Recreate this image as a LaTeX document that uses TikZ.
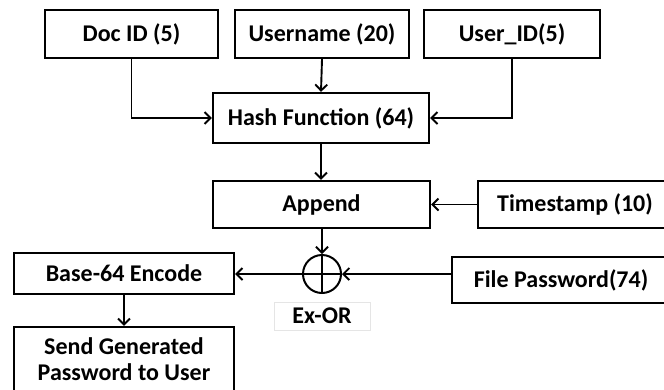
\documentclass[tikz,border=0pt]{standalone}
\usepackage{fontspec}
\setmainfont{Carlito}
\usetikzlibrary{arrows.meta}
\begin{document}
\begin{tikzpicture}[x=1pt,y=-1pt,
  box/.style={draw, line width=2.3pt, inner sep=0pt, align=center,
    font=\fontsize{24}{26}\selectfont\bfseries},
  arr/.style={line width=1.9pt, -{Straight Barb[length=6pt,width=12pt,line width=1.9pt]}}]
\useasboundingbox (0,0) rectangle (664,389);
\node[box, minimum width=173pt, minimum height=48pt] (doc) at (131.5,34) {Doc ID (5)};
\node[box, minimum width=174pt, minimum height=48pt] (user) at (322,34) {Username (20)};
\node[box, minimum width=176pt, minimum height=48pt] (uid) at (512,34) {User\_ID(5)};
\node[box, minimum width=216pt, minimum height=50pt] (hash) at (321,118) {Hash Function (64)};
\node[box, minimum width=217pt, minimum height=47pt] (append) at (321.5,204.5) {Append};
\node[box, minimum width=194pt, minimum height=47pt] (ts) at (575,204.5) {Timestamp (10)};
\node[draw, circle, line width=2pt, minimum size=38pt, inner sep=0pt] (xor) at (322,274) {};
\draw[line width=2pt] (xor.north) -- (xor.south) (xor.west) -- (xor.east);
\node[box, minimum width=218pt, minimum height=46pt] (fp) at (561,280) {File Password(74)};
\node[box, minimum width=220pt, minimum height=41pt] (base) at (124,273.5) {Base-64 Encode};
\node[box, minimum width=220pt, minimum height=65pt] (send) at (124,359.5) {Send Generated\\Password to User};
\node[draw=gray!20, line width=0.6pt, minimum width=96pt, minimum height=28pt, inner sep=0pt,
  font=\fontsize{24}{26}\selectfont\bfseries] (exl) at (322,316) {Ex-OR};
\draw[arr] (doc.south) |- (hash.west);
\draw[arr] (user.south) -- (hash.north);
\draw[arr] (uid.south) |- (hash.east);
\draw[arr] (hash.south) -- (hash.south |- append.north);
\draw[arr] (ts.west) -- (append.east);
\draw[arr] (append.south -| xor) -- (xor.north);
\draw[arr] (fp.west |- xor) -- (xor.east);
\draw[arr] (xor.west) -- (xor.west -| base.east);
\draw[arr] (base.south) -- (send.north);
\end{tikzpicture}
\end{document}
